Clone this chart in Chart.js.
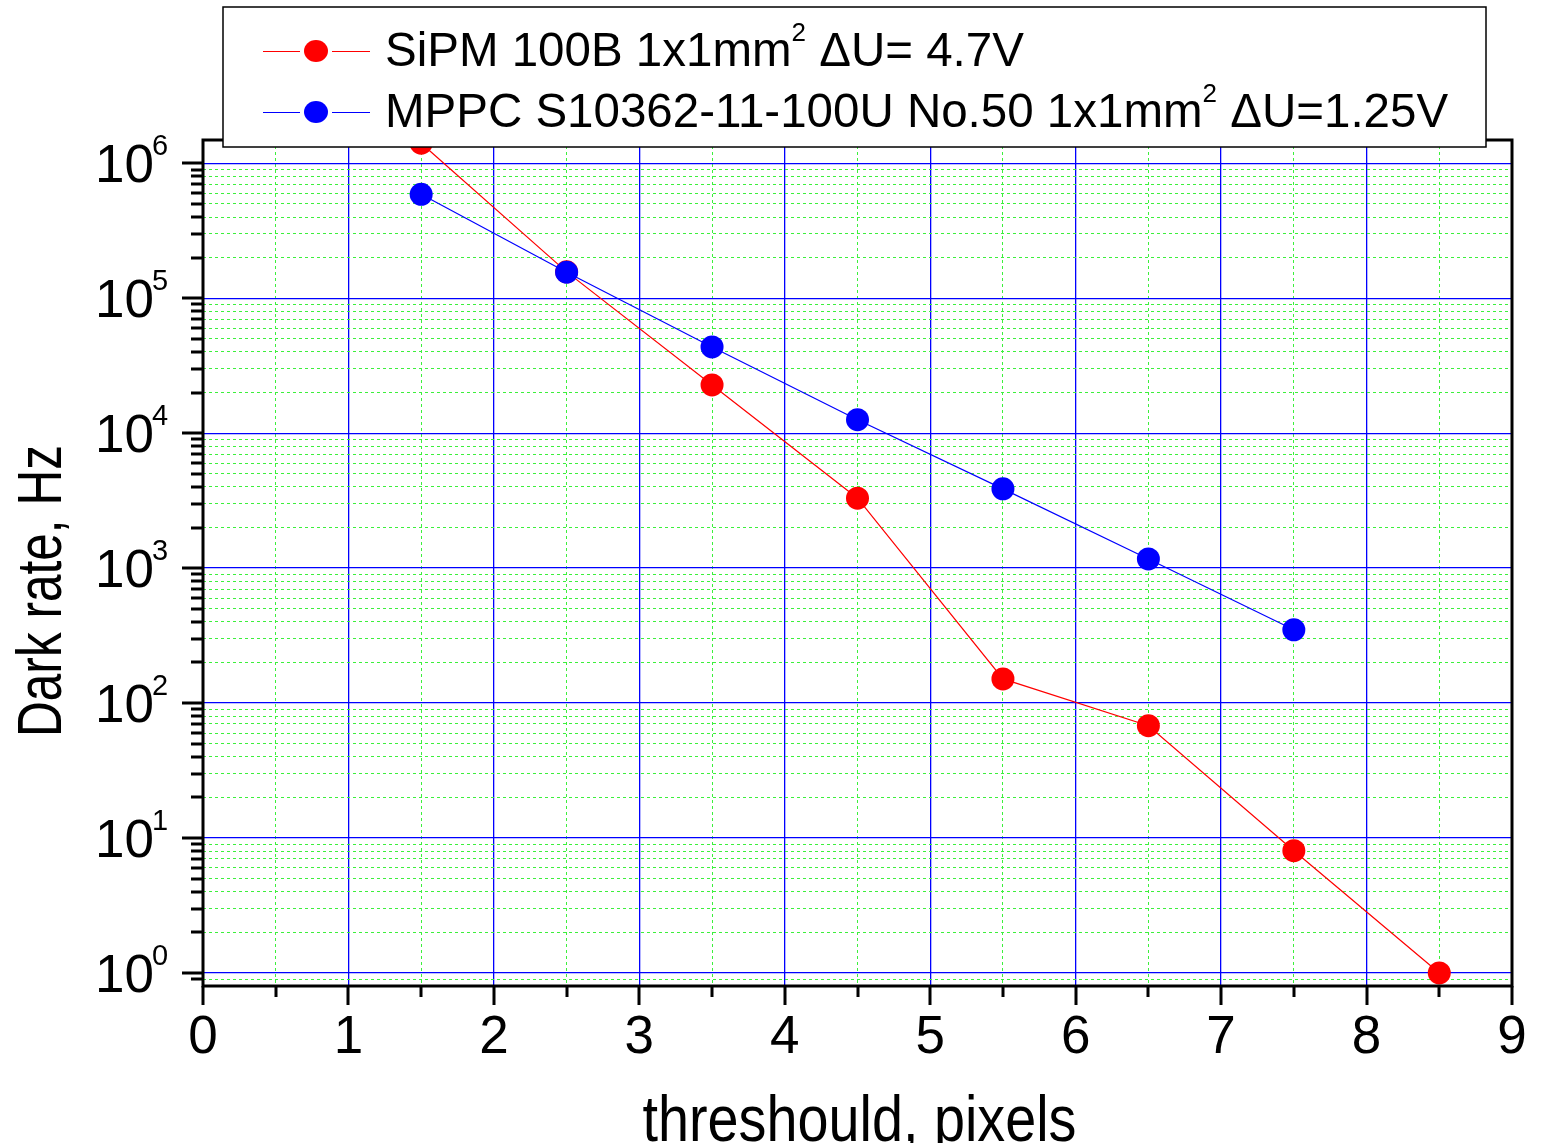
<!DOCTYPE html>
<html>
<head>
<meta charset="utf-8">
<script src="https://cdn.jsdelivr.net/npm/chart.js@4/dist/chart.umd.min.js"></script>
<style>
  body { margin: 0; background: #fff; }
  #box { width: 1544px; height: 1143px; }
</style>
</head>
<body>
<div id="box"><canvas id="grafico" width="1544" height="1143"></canvas></div>
<script>
// threshold in pixels, dark rate in Hz
var sipmThreshold = [1.5, 2.5, 3.5, 4.5, 5.5, 6.5, 7.5, 8.5];
var sipmRate = [1.41e6, 1.57e5, 2.28e4, 3.3e3, 151, 68, 8.05, 1.0];
var mppcThreshold = [1.5, 2.5, 3.5, 4.5, 5.5, 6.5, 7.5];
var mppcRate = [5.9e5, 1.56e5, 4.36e4, 1.26e4, 3.87e3, 1.17e3, 349];

var xTickLabels = ['0', '1', '2', '3', '4', '5', '6', '7', '8', '9'];
var yExponents = [0, 1, 2, 3, 4, 5, 6];

var legendRows = [
  { color: '#ff0000', parts: [{ t: 'SiPM 100B 1x1mm' }, { t: '2', sup: true }, { t: ' \u0394U= 4.7V' }] },
  { color: '#0000ff', parts: [{ t: 'MPPC S10362-11-100U No.50 1x1mm' }, { t: '2', sup: true }, { t: ' \u0394U=1.25V' }] }
];

var FONT = '"Liberation Sans", Arial, sans-serif';
var BLUE = '#0000ff';
var GREEN = '#3cf03c';

function toPoints(xs, ys) {
  return xs.map(function (v, i) { return { x: v, y: ys[i] }; });
}

function isPow10(v) {
  var l = Math.log10(v);
  return Math.abs(l - Math.round(l)) < 1e-9;
}

function drawRich(ctx, parts, x, y, size) {
  parts.forEach(function (p) {
    if (p.sup) {
      ctx.font = Math.round(size * 0.55) + 'px ' + FONT;
      ctx.fillText(p.t, x, y - size * 0.52);
    } else {
      ctx.font = size + 'px ' + FONT;
      ctx.fillText(p.t, x, y);
    }
    x += ctx.measureText(p.t).width;
  });
}

var moldura = {
  id: 'moldura',
  beforeDraw: function (chart) {
    var ctx = chart.ctx;
    ctx.save();
    ctx.fillStyle = '#fff';
    ctx.fillRect(0, 0, chart.width, chart.height);
    ctx.restore();
  },
  afterDraw: function (chart) {
    var ctx = chart.ctx;
    var a = chart.chartArea;
    var x = chart.scales.x;
    var y = chart.scales.y;
    ctx.save();

    // frame
    ctx.strokeStyle = '#000';
    ctx.lineWidth = 3;
    ctx.strokeRect(a.left, a.top, a.right - a.left, a.bottom - a.top);

    // tick marks
    ctx.beginPath();
    x.ticks.forEach(function (t) {
      var px = Math.round(x.getPixelForValue(t.value));
      var len = Number.isInteger(t.value) ? 19 : 11;
      ctx.moveTo(px, a.bottom);
      ctx.lineTo(px, a.bottom + len);
    });
    y.ticks.forEach(function (t) {
      var py = Math.round(y.getPixelForValue(t.value));
      var len = isPow10(t.value) ? 21 : 12;
      ctx.moveTo(a.left - len, py);
      ctx.lineTo(a.left, py);
    });
    ctx.stroke();

    // tick labels
    ctx.fillStyle = '#000';
    ctx.textBaseline = 'alphabetic';
    ctx.font = '53px ' + FONT;
    ctx.textAlign = 'center';
    xTickLabels.forEach(function (lab, i) {
      ctx.fillText(lab, x.getPixelForValue(i), 1053);
    });
    yExponents.forEach(function (e) {
      var py = y.getPixelForValue(Math.pow(10, e));
      ctx.font = '53px ' + FONT;
      ctx.textAlign = 'right';
      ctx.fillText('10', 154, py + 19);
      ctx.font = '29px ' + FONT;
      ctx.textAlign = 'left';
      ctx.fillText(String(e), 152, py - 8);
    });

    // axis titles (narrow lettering)
    ctx.textAlign = 'center';
    ctx.font = '63px ' + FONT;
    var yt = 'Dark rate, Hz';
    var sy = 292 / ctx.measureText(yt).width;
    ctx.save();
    ctx.translate(61, 591);
    ctx.rotate(-Math.PI / 2);
    ctx.scale(sy, 1);
    ctx.fillText(yt, 0, 0);
    ctx.restore();

    ctx.font = '64px ' + FONT;
    var xt = 'threshould, pixels';
    var sx = 434 / ctx.measureText(xt).width;
    ctx.save();
    ctx.translate((a.left + a.right) / 2 + 2, 1141);
    ctx.scale(sx, 1);
    ctx.fillText(xt, 0, 0);
    ctx.restore();

    // legend box
    ctx.fillStyle = '#fff';
    ctx.fillRect(223, 7, 1263, 140);
    ctx.strokeStyle = '#000';
    ctx.lineWidth = 1.5;
    ctx.strokeRect(223, 7, 1263, 140);
    var rowY = [51, 112];
    legendRows.forEach(function (r, i) {
      var cy = rowY[i];
      ctx.strokeStyle = r.color;
      ctx.lineWidth = 1;
      ctx.beginPath();
      ctx.moveTo(263, cy + 0.5);
      ctx.lineTo(300, cy + 0.5);
      ctx.moveTo(332, cy + 0.5);
      ctx.lineTo(370, cy + 0.5);
      ctx.stroke();
      ctx.fillStyle = r.color;
      ctx.beginPath();
      ctx.ellipse(316, cy, 12, 11, 0, 0, Math.PI * 2);
      ctx.fill();
      ctx.fillStyle = '#000';
      ctx.textAlign = 'left';
      drawRich(ctx, r.parts, 385, cy + 15, 47.5);
    });

    ctx.restore();
  }
};

var ctx = document.getElementById('grafico').getContext('2d');
var grafico = new Chart(ctx, {
  type: 'line',
  data: {
    datasets: [{
      label: 'SiPM 100B 1x1mm2 \u0394U= 4.7V',
      data: toPoints(sipmThreshold, sipmRate),
      borderColor: '#ff0000',
      backgroundColor: '#ff0000',
      borderWidth: 1.2,
      pointRadius: 11.5,
      pointBorderWidth: 0,
      pointHoverRadius: 11.5,
      clip: false,
      order: 1
    }, {
      label: 'MPPC S10362-11-100U No.50 1x1mm2 \u0394U=1.25V',
      data: toPoints(mppcThreshold, mppcRate),
      borderColor: BLUE,
      backgroundColor: BLUE,
      borderWidth: 1.2,
      pointRadius: 11.5,
      pointBorderWidth: 0,
      pointHoverRadius: 11.5,
      clip: false,
      order: 0
    }]
  },
  options: {
    responsive: false,
    animation: false,
    events: [],
    layout: { padding: { left: 203, top: 140, right: 32, bottom: 157 } },
    plugins: { legend: { display: false }, tooltip: { enabled: false } },
    scales: {
      x: {
        type: 'linear',
        min: 0,
        max: 9,
        afterBuildTicks: function (axis) {
          var t = [];
          for (var i = 0; i <= 18; i++) t.push({ value: i / 2 });
          axis.ticks = t;
        },
        ticks: { display: false },
        border: {
          display: false,
          dash: function (c) { return c.tick && !Number.isInteger(c.tick.value) ? [3, 3] : []; }
        },
        grid: {
          drawTicks: false,
          lineWidth: function (c) { return c.tick && !Number.isInteger(c.tick.value) ? 1 : 1.3; },
          color: function (c) {
            if (!c.tick) return BLUE;
            return Number.isInteger(c.tick.value) ? BLUE : GREEN;
          }
        }
      },
      y: {
        type: 'logarithmic',
        min: 0.8,
        max: 1.49e6,
        afterBuildTicks: function (axis) {
          var t = [{ value: 0.9 }];
          for (var e = 0; e <= 6; e++) {
            for (var m = 1; m <= 9; m++) {
              var v = m * Math.pow(10, e);
              if (v <= 1.49e6) t.push({ value: v });
            }
          }
          axis.ticks = t;
        },
        ticks: { display: false },
        border: {
          display: false,
          dash: function (c) { return c.tick && !isPow10(c.tick.value) ? [3, 3] : []; }
        },
        grid: {
          drawTicks: false,
          lineWidth: function (c) { return c.tick && !isPow10(c.tick.value) ? 1 : 1.3; },
          color: function (c) {
            if (!c.tick) return BLUE;
            return isPow10(c.tick.value) ? BLUE : GREEN;
          }
        }
      }
    }
  },
  plugins: [moldura]
});
</script>
</body>
</html>
